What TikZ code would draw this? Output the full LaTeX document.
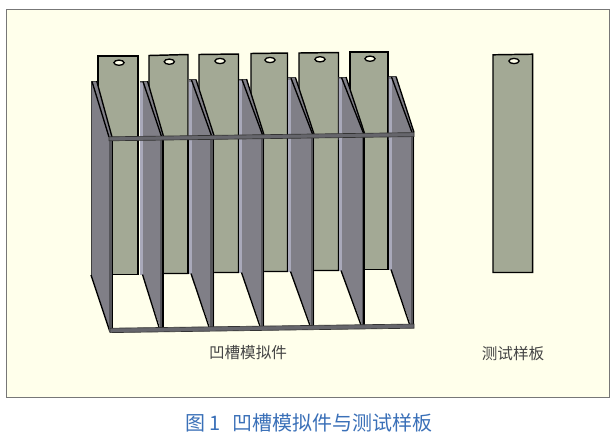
\documentclass[tikz,border=0pt]{standalone}
\usepackage{fontspec}
\newfontfamily\cjk{Noto Sans CJK SC}
\definecolor{panelbg}{HTML}{FFFFEB}
\definecolor{panelline}{HTML}{777777}
\definecolor{platecol}{HTML}{A3A995}
\definecolor{greycol}{HTML}{807F87}
\definecolor{stripcol}{HTML}{A9A9BA}
\definecolor{barcol}{HTML}{66666C}
\definecolor{postcol}{HTML}{55555A}
\definecolor{capcol}{HTML}{3A70B8}
\definecolor{labcol}{HTML}{444444}
\usetikzlibrary{shapes.geometric}
\tikzset{
  plateshape/.style={fill=platecol,draw=black,line width=1.1pt,line join=miter},
  holeshape/.style={ellipse,fill=panelbg,draw=black,line width=1pt,minimum width=7.6pt,minimum height=3.9pt,inner sep=0pt},
  dividershape/.style={fill=greycol,draw=none},
  stripshape/.style={fill=stripcol,draw=none},
  blackline/.style={draw=black,line width=1pt},
  heavyline/.style={draw=black,line width=1.25pt},
  thinline/.style={draw=black!75,line width=.5pt},
  postshape/.style={fill=postcol,draw=none},
  barshape/.style={fill=barcol,draw=black!80,line width=.5pt},
  labeltext/.style={font=\cjk\fontsize{11.7}{14}\selectfont,text=labcol,inner sep=0pt},
  captiontext/.style={font=\cjk\fontsize{15}{18}\selectfont,text=capcol,inner sep=0pt}
}
\begin{document}
\begin{tikzpicture}[x=.75pt,y=-.75pt]
\useasboundingbox (0,0) rectangle (616,437);
\fill[white] (0,0) rectangle (616,437);
\draw[fill=panelbg,draw=panelline,line width=.7pt] (6,9) rectangle (609,397);

% sample plates
\foreach \l/\r/\ty/\tz/\bot/\hx/\hy in {
  98/138/56/56/274.5/119/62.7,
  149/188/55.5/54.5/273.5/169.3/61.7,
  199/238.5/54.5/54/272.5/220/61,
  251/287.5/53.5/53/271.5/270/60,
  299/338.5/53/52.5/270.5/320/59.3,
  350/388/52/52/269.5/370/58.7}{
  \path[plateshape] (\l,\bot) -- (\l,\ty) -- (\r,\tz) -- (\r,\bot) -- cycle;
  \node[holeshape] at (\hx,\hy) {};
}

% outer left panel
\path[dividershape] (91,81) -- (97,81) -- (112,137) -- (112,332) -- (110,332) -- (91,275) -- cycle;
\draw[thinline] (91,275) -- (91,81) -- (97,81);
\draw[blackline] (91,275) -- (110,332);
\draw[blackline] (92,81.5) -- (109,137);
\draw[blackline] (96.7,81) -- (112,137);

% dividers
\foreach \bx/\by/\pl/\pr/\ft/\bp/\fb in {
  140/81/160/163.5/136.4/274.5/327.2,
  188.5/79.5/210/214/135.6/273.5/327,
  239/79/261/264/134.8/272.5/326.3,
  288/77.7/311/314/134/271.5/325.6,
  338.5/77/362/364.5/133.2/270.5/325,
  388.5/76.5/410.5/414/132.4/269.5/324.3}{
  \path[dividershape] (\bx,\by) -- ({\bx+7.5},\by) -- (\pr,\ft) -- (\pr,\fb) -- (\pl,\fb) -- ({\bx+2.5},\bp) -- (\bx,\bp) -- cycle;
  \path[stripshape] (\bx,\by+2) -- (\bx+3,\by+2) -- (\bx+3,\bp) -- (\bx,\bp) -- cycle;
  \draw[thinline] (\bx,\by) -- (\bx+7.5,\by);
  \draw[blackline] (\bx+3,\by+.5) -- (\pl+1.5,\ft);
  \draw[blackline] (\bx+7.5,\by) -- (\pr,\ft);
  \draw[blackline] (\bx+2.5,\bp) -- (\pl-1,\fb);
  \path[postshape] (\pl,\ft) rectangle (\pr,\fb);
  \draw[heavyline] (\pr-.6,\ft) -- (\pr-.6,\fb);
}

% plate edges seen in the slots
\foreach \r/\bot in {138/274.5,188/273.5,238.5/272.5,287.5/271.5,338.5/270.5,388/269.5}{
  \draw[heavyline] (\r,140) -- (\r,\bot);
}

% first front post
\path[postshape] (109,137) rectangle (113,332);
\draw[heavyline] (112.6,137) -- (112.6,329);

% front frame
\path[barshape] (109,136.8) -- (414,132.6) -- (414,136.6) -- (109,140.8) -- cycle;
\path[barshape] (110,328.2) -- (414,324) -- (414,328.2) -- (110,332.6) -- cycle;

% test plate
\path[plateshape] (493,272.5) -- (493,54.8) -- (532.7,54.2) -- (532.7,272.5) -- cycle;
\node[holeshape] (h) at (514,61) {};

% labels
\node[labeltext] (l1) at (248,352.6) {凹槽模拟件};
\node[labeltext] (l2) at (513,353.6) {测试样板};
\node[captiontext] (c) at (309,423) {图\hspace{3pt}1\hspace{9pt}凹槽模拟件与测试样板};
\end{tikzpicture}
\end{document}
